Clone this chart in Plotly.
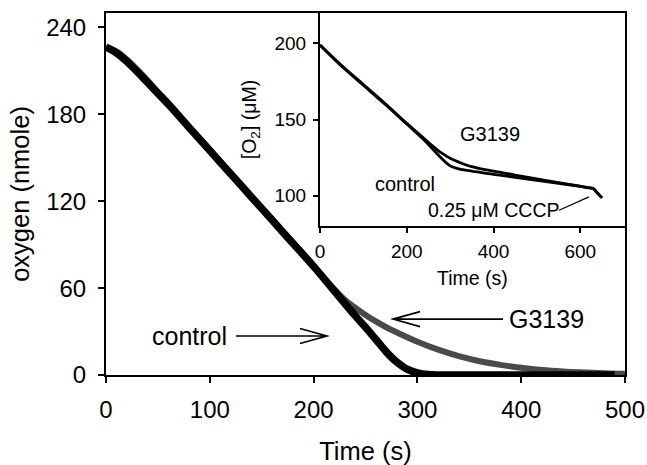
import plotly.graph_objects as go

# ---- main panel data (oxygen, nmole vs time, s) ----
ctrl_t = [0, 10, 20, 30, 40, 50, 60, 80, 100, 120, 140, 160, 180, 200, 220, 240, 250,
          260, 270, 280, 290, 300, 310, 320, 340, 360, 380, 400, 420, 440, 460, 490]
ctrl_o2 = [226.5, 222.5, 216.5, 209.5, 202, 194.5, 187, 171, 155, 139, 123, 107, 91, 75,
           58, 41, 33, 24.5, 16, 9, 4, 1.5, 0.3, 0, 0, 0, 0, 0, 0, 0, 0, 0]

g_t = [0, 10, 20, 30, 40, 50, 60, 80, 100, 120, 140, 160, 180, 200, 215, 230, 240, 250,
       260, 270, 280, 300, 320, 340, 360, 380, 400, 420, 440, 460, 480, 500]
g_o2 = [226.5, 223.5, 218, 211, 203.5, 195.5, 188, 171.5, 155.5, 139.5, 123.5, 107.5, 91.5, 75.5,
        63, 52, 46.5, 41.5, 37, 33, 29.5, 23, 17.5, 13, 9.5, 7, 5, 3.5, 2.5, 1.8, 1.2, 0.8]

# ---- inset data ([O2], uM vs time, s) ----
in_ctrl_t = [0, 50, 100, 150, 200, 240, 260, 280, 300, 320, 350, 400, 450, 500, 550, 600,
             620, 630, 640, 650]
in_ctrl_o2 = [199, 185, 172.5, 160, 147, 136.5, 130.5, 124.5, 119.5, 117.5, 116, 114, 112,
              110, 108, 106, 105, 104.5, 101.5, 98.5]
in_g_t = [0, 50, 100, 150, 200, 240, 260, 280, 300, 320, 350, 400, 450, 500, 550, 600,
          620, 630, 640, 650]
in_g_o2 = [199, 185.5, 173, 160.5, 147.5, 137.5, 132.5, 128, 124.5, 122, 119, 116, 113.5,
           111, 108.5, 106.2, 105.2, 104.6, 101.5, 98.5]

main_xticks = [0, 100, 200, 300, 400, 500]
main_yticks = [0, 60, 120, 180, 240]
inset_xticks = [0, 200, 400, 600]
inset_yticks = [100, 150, 200]

FONT = "Liberation Sans, Arial, sans-serif"

fig = go.Figure()
fig.add_trace(go.Scatter(x=g_t, y=g_o2, mode="lines", line=dict(color="#4a4a4a", width=6, shape="spline"),
                         cliponaxis=False, showlegend=False, xaxis="x", yaxis="y"))
fig.add_trace(go.Scatter(x=ctrl_t, y=ctrl_o2, mode="lines", line=dict(color="black", width=7.5, shape="spline"),
                         cliponaxis=False, showlegend=False, xaxis="x", yaxis="y"))
fig.add_trace(go.Scatter(x=in_g_t, y=in_g_o2, mode="lines", line=dict(color="black", width=2.8, shape="spline"),
                         showlegend=False, xaxis="x2", yaxis="y2"))
fig.add_trace(go.Scatter(x=in_ctrl_t, y=in_ctrl_o2, mode="lines", line=dict(color="black", width=2.8, shape="spline"),
                         showlegend=False, xaxis="x2", yaxis="y2"))

axcommon = dict(showline=True, linecolor="black", linewidth=2, mirror=True, ticks="outside",
                tickcolor="black", tickwidth=1.5, showgrid=False, zeroline=False, automargin=False)

fig.update_layout(
    template="none",
    width=647, height=465,
    margin=dict(l=106, r=22, t=13, b=90),
    paper_bgcolor="white", plot_bgcolor="white",
    font=dict(family=FONT, color="black"),
    xaxis=dict(domain=[0, 1], range=[0, 500], tickvals=main_xticks, ticklen=6,
               tickfont=dict(size=24), ticklabelstandoff=6,
               title=dict(text="Time (s)", font=dict(size=25.5), standoff=22), anchor="y", **axcommon),
    yaxis=dict(domain=[0, 1], range=[0, 250], tickvals=main_yticks, ticklen=6,
               tickfont=dict(size=24), ticklabelstandoff=7,
               title=dict(text="oxygen (nmole)", font=dict(size=25.5), standoff=9), anchor="x", **axcommon),
    xaxis2=dict(domain=[0.4123, 1.0], range=[0, 703], tickvals=inset_xticks, ticklen=5,
                tickfont=dict(size=19), ticklabelstandoff=2,
                title=dict(text="Time (s)", font=dict(size=19.5), standoff=11), anchor="y2", **axcommon),
    yaxis2=dict(domain=[0.4116, 1.0], range=[80, 220], tickvals=inset_yticks, ticklen=5,
                tickfont=dict(size=19), ticklabelstandoff=3,
                title=dict(text="[O<sub>2</sub>] (μM)", font=dict(size=19.5), standoff=13), anchor="x2", **axcommon),
)

ann = [
    dict(x=80, y=26.9, xref="x", yref="y", text="control", showarrow=False, font=dict(size=25)),
    dict(x=424.5, y=38.6, xref="x", yref="y", text="G3139", showarrow=False, font=dict(size=25)),
    dict(x=393, y=140.8, xref="x2", yref="y2", text="G3139", showarrow=False, font=dict(size=20)),
    dict(x=196.5, y=107.9, xref="x2", yref="y2", text="control", showarrow=False, font=dict(size=20)),
    dict(x=401, y=90.3, xref="x2", yref="y2", text="0.25 μM CCCP", showarrow=False, font=dict(size=19.5)),
]
fig.update_layout(annotations=ann)

# arrows drawn as pixel-sized paths anchored at their tips
arrow_line = dict(color="black", width=1.6)
shapes = [
    dict(type="path", xref="x", yref="y", xsizemode="pixel", ysizemode="pixel",
         xanchor=212.9, yanchor=26.9, path="M-91,0 L0,0 M-27,7.5 L0,0 L-27,-7.5", line=arrow_line),
    dict(type="path", xref="x", yref="y", xsizemode="pixel", ysizemode="pixel",
         xanchor=276.5, yanchor=38.6, path="M110,0 L0,0 M27,7.5 L0,0 L27,-7.5", line=arrow_line),
    dict(type="path", xref="x2", yref="y2", xsizemode="pixel", ysizemode="pixel",
         xanchor=620, yanchor=99.1, path="M-30,-13.3 L0,0", line=dict(color="black", width=1.3)),
]
fig.update_layout(shapes=shapes)

fig.write_html("out.html", config={"displayModeBar": False},
               post_script="document.body.style.margin='0';document.body.style.padding='0';")
